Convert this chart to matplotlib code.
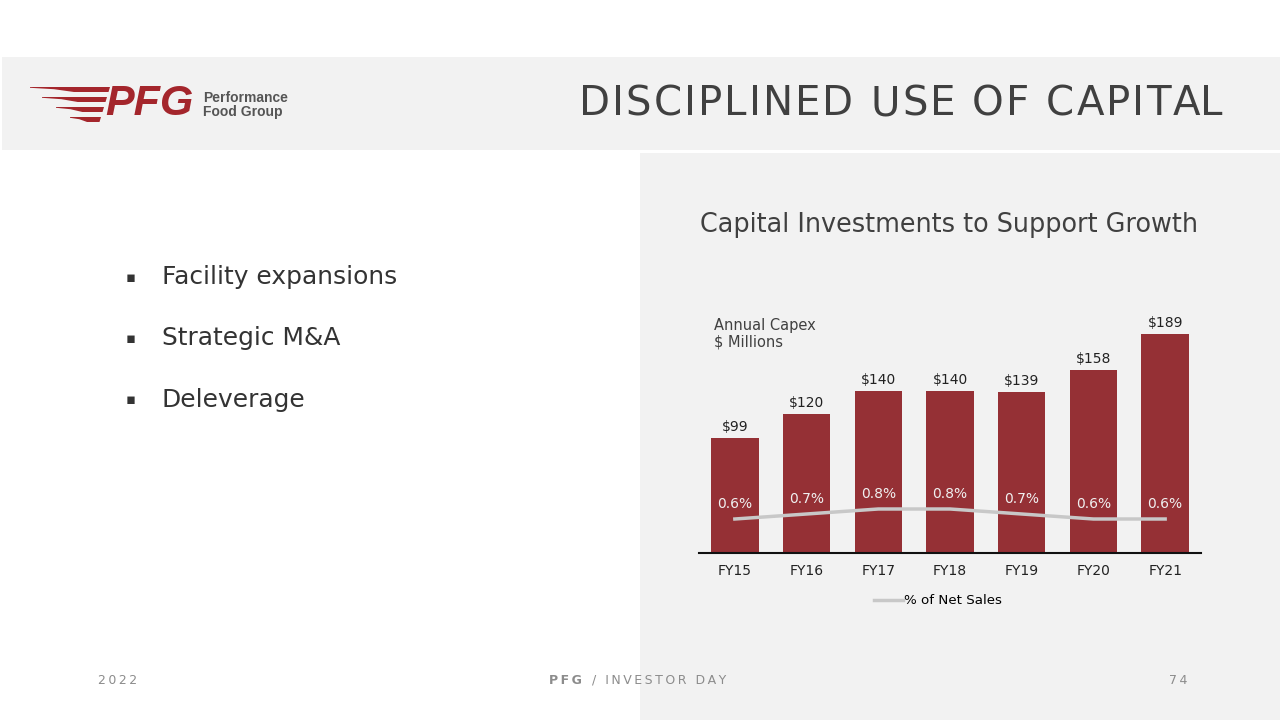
import matplotlib.pyplot as plt
from matplotlib.patches import Rectangle, Polygon
from matplotlib.font_manager import FontProperties
from matplotlib.textpath import TextToPath

plt.rcParams['font.family'] = ['DejaVu Sans']

# data
years = ['FY15', 'FY16', 'FY17', 'FY18', 'FY19', 'FY20', 'FY21']
capex = [99, 120, 140, 140, 139, 158, 189]
pct_sales = [0.6, 0.7, 0.8, 0.8, 0.7, 0.6, 0.6]
bullets = ['Facility expansions', 'Strategic M&A', 'Deleverage']

W, H = 1280, 720
DPI = 100
RED = '#953035'
DARK = '#404040'

fig = plt.figure(figsize=(12.8, 7.2), dpi=DPI)
fig.patch.set_facecolor('white')


def px(x, y):
    # pixel (from top-left) -> figure fraction
    return x / W, 1 - y / H


def spaced(s, gap='\u2009'):
    return gap.join(s)


def tracked_text(x_right, y, s, size, track, **kw):
    # letter-spaced text, right aligned at x_right (pixels)
    prop = FontProperties(family='DejaVu Sans', size=size)
    t2p = TextToPath()

    def width(t):
        if not t:
            return 0.0
        w, _, _ = t2p.get_text_width_height_descent(t.replace(' ', '\u00a0'), prop, ismath=False)
        return w * DPI / 72

    total = width(s) + track * (len(s) - 1)
    x0 = x_right - total
    for i, ch in enumerate(s):
        if ch == ' ':
            continue
        xi = x0 + width(s[:i]) + track * i
        fig.text(*px(xi, y), ch, fontproperties=prop, ha='left', va='center', **kw)


# background panels
fig.patches.append(Rectangle(px(2, 150), 1278 / W, 93 / H, transform=fig.transFigure,
                             facecolor='#f2f2f2', edgecolor='none', zorder=0))
fig.patches.append(Rectangle(px(640, 720), 640 / W, 567 / H, transform=fig.transFigure,
                             facecolor='#f2f2f2', edgecolor='none', zorder=0))

# logo: tapered speed lines + PFG wordmark
for yt, x0, xr in [(87, 30, 110), (97, 42, 107), (107, 56, 104), (117, 70, 101)]:
    L = xr - x0
    pts = [px(x0, yt), px(xr, yt), px(xr - 1.5, yt + 5), px(x0 + 0.55 * L, yt + 5),
           px(x0 + 0.3 * L, yt + 2.2), px(x0, yt + 0.8)]
    fig.patches.append(Polygon(pts, closed=True, transform=fig.transFigure,
                               facecolor='#a4262c', edgecolor='none'))
fig.text(*px(105, 104), 'PFG', fontsize=31, fontweight='bold', fontstyle='italic',
         color='#a4262c', va='center', ha='left', family=['Liberation Sans'])
fig.text(*px(203, 105), 'Performance\nFood Group', fontsize=10, fontweight='bold',
         color='#555555', va='center', ha='left', linespacing=1.05,
         family=['Liberation Sans'])

# header title
tracked_text(1222, 104, 'DISCIPLINED USE OF CAPITAL', 29, 2.1, color=DARK)

# bullets
for i, b in enumerate(bullets):
    y = 277 + i * 61.5
    fig.text(*px(131, y), '▪', fontsize=10.5, color='#333333', ha='center', va='center')
    fig.text(*px(162, y), b, fontsize=17.9, color='#333333', ha='left', va='center')

# chart title
fig.text(*px(949, 225), 'Capital Investments to Support Growth', fontsize=18.4,
         color=DARK, ha='center', va='center')

# chart axes
ax = fig.add_axes([699 / W, 167 / H, 502 / W, 231.8 / H])
ax.set_zorder(3)
ax.set_facecolor('none')
x = list(range(len(years)))
ax.bar(x, capex, width=0.66, color=RED, zorder=2)
ax.set_xlim(-0.5, len(years) - 0.5)
ax.set_ylim(0, 200)
for xi, v in zip(x, capex):
    ax.annotate(f'${v}', (xi, v), xytext=(0, 3), textcoords='offset points',
                ha='center', va='bottom', fontsize=10, color='#222222')
ax.set_xticks(x)
ax.set_xticklabels(years, fontsize=10, color='#222222')
ax.tick_params(axis='x', length=0, pad=8)
ax.set_yticks([])
for s in ['top', 'right', 'left']:
    ax.spines[s].set_visible(False)
ax.spines['bottom'].set_linewidth(1.5)
ax.spines['bottom'].set_color('#111111')

ax2 = ax.twinx()
ax2.set_zorder(4)
ax2.set_facecolor('none')
ax2.set_ylim(-0.08, 4.556)
line, = ax2.plot(x, pct_sales, color='#c8c8c8', lw=2.5, zorder=3,
                 label='% of Net Sales')
for xi, v in zip(x, pct_sales):
    ax2.annotate(f'{v:.1f}%', (xi, v), xytext=(0, 6), textcoords='offset points',
                 ha='center', va='bottom', fontsize=10, color='#f0f0f0')
ax2.set_yticks([])
for s in ax2.spines.values():
    s.set_visible(False)

ax.text(0.03, 1.015, 'Annual Capex\n$ Millions', transform=ax.transAxes, fontsize=10.5,
        color=DARK, ha='left', va='top', linespacing=1.15)

fig.legend(handles=[line], loc='center', bbox_to_anchor=px(938, 601), frameon=False,
           fontsize=9.6, handlelength=2.2, handletextpad=0.1)

# footer
foot = dict(fontsize=9, color='#8c8c8c', va='center')
fig.text(*px(118, 680), spaced('2022'), ha='center', **foot)
fig.text(*px(582, 680), spaced('PFG'), ha='right', fontweight='bold', **foot)
fig.text(*px(592, 680), spaced('/ INVESTOR DAY'), ha='left', **foot)
fig.text(*px(1178, 680), spaced('74'), ha='center', **foot)

fig.savefig('out.png', dpi=DPI)
